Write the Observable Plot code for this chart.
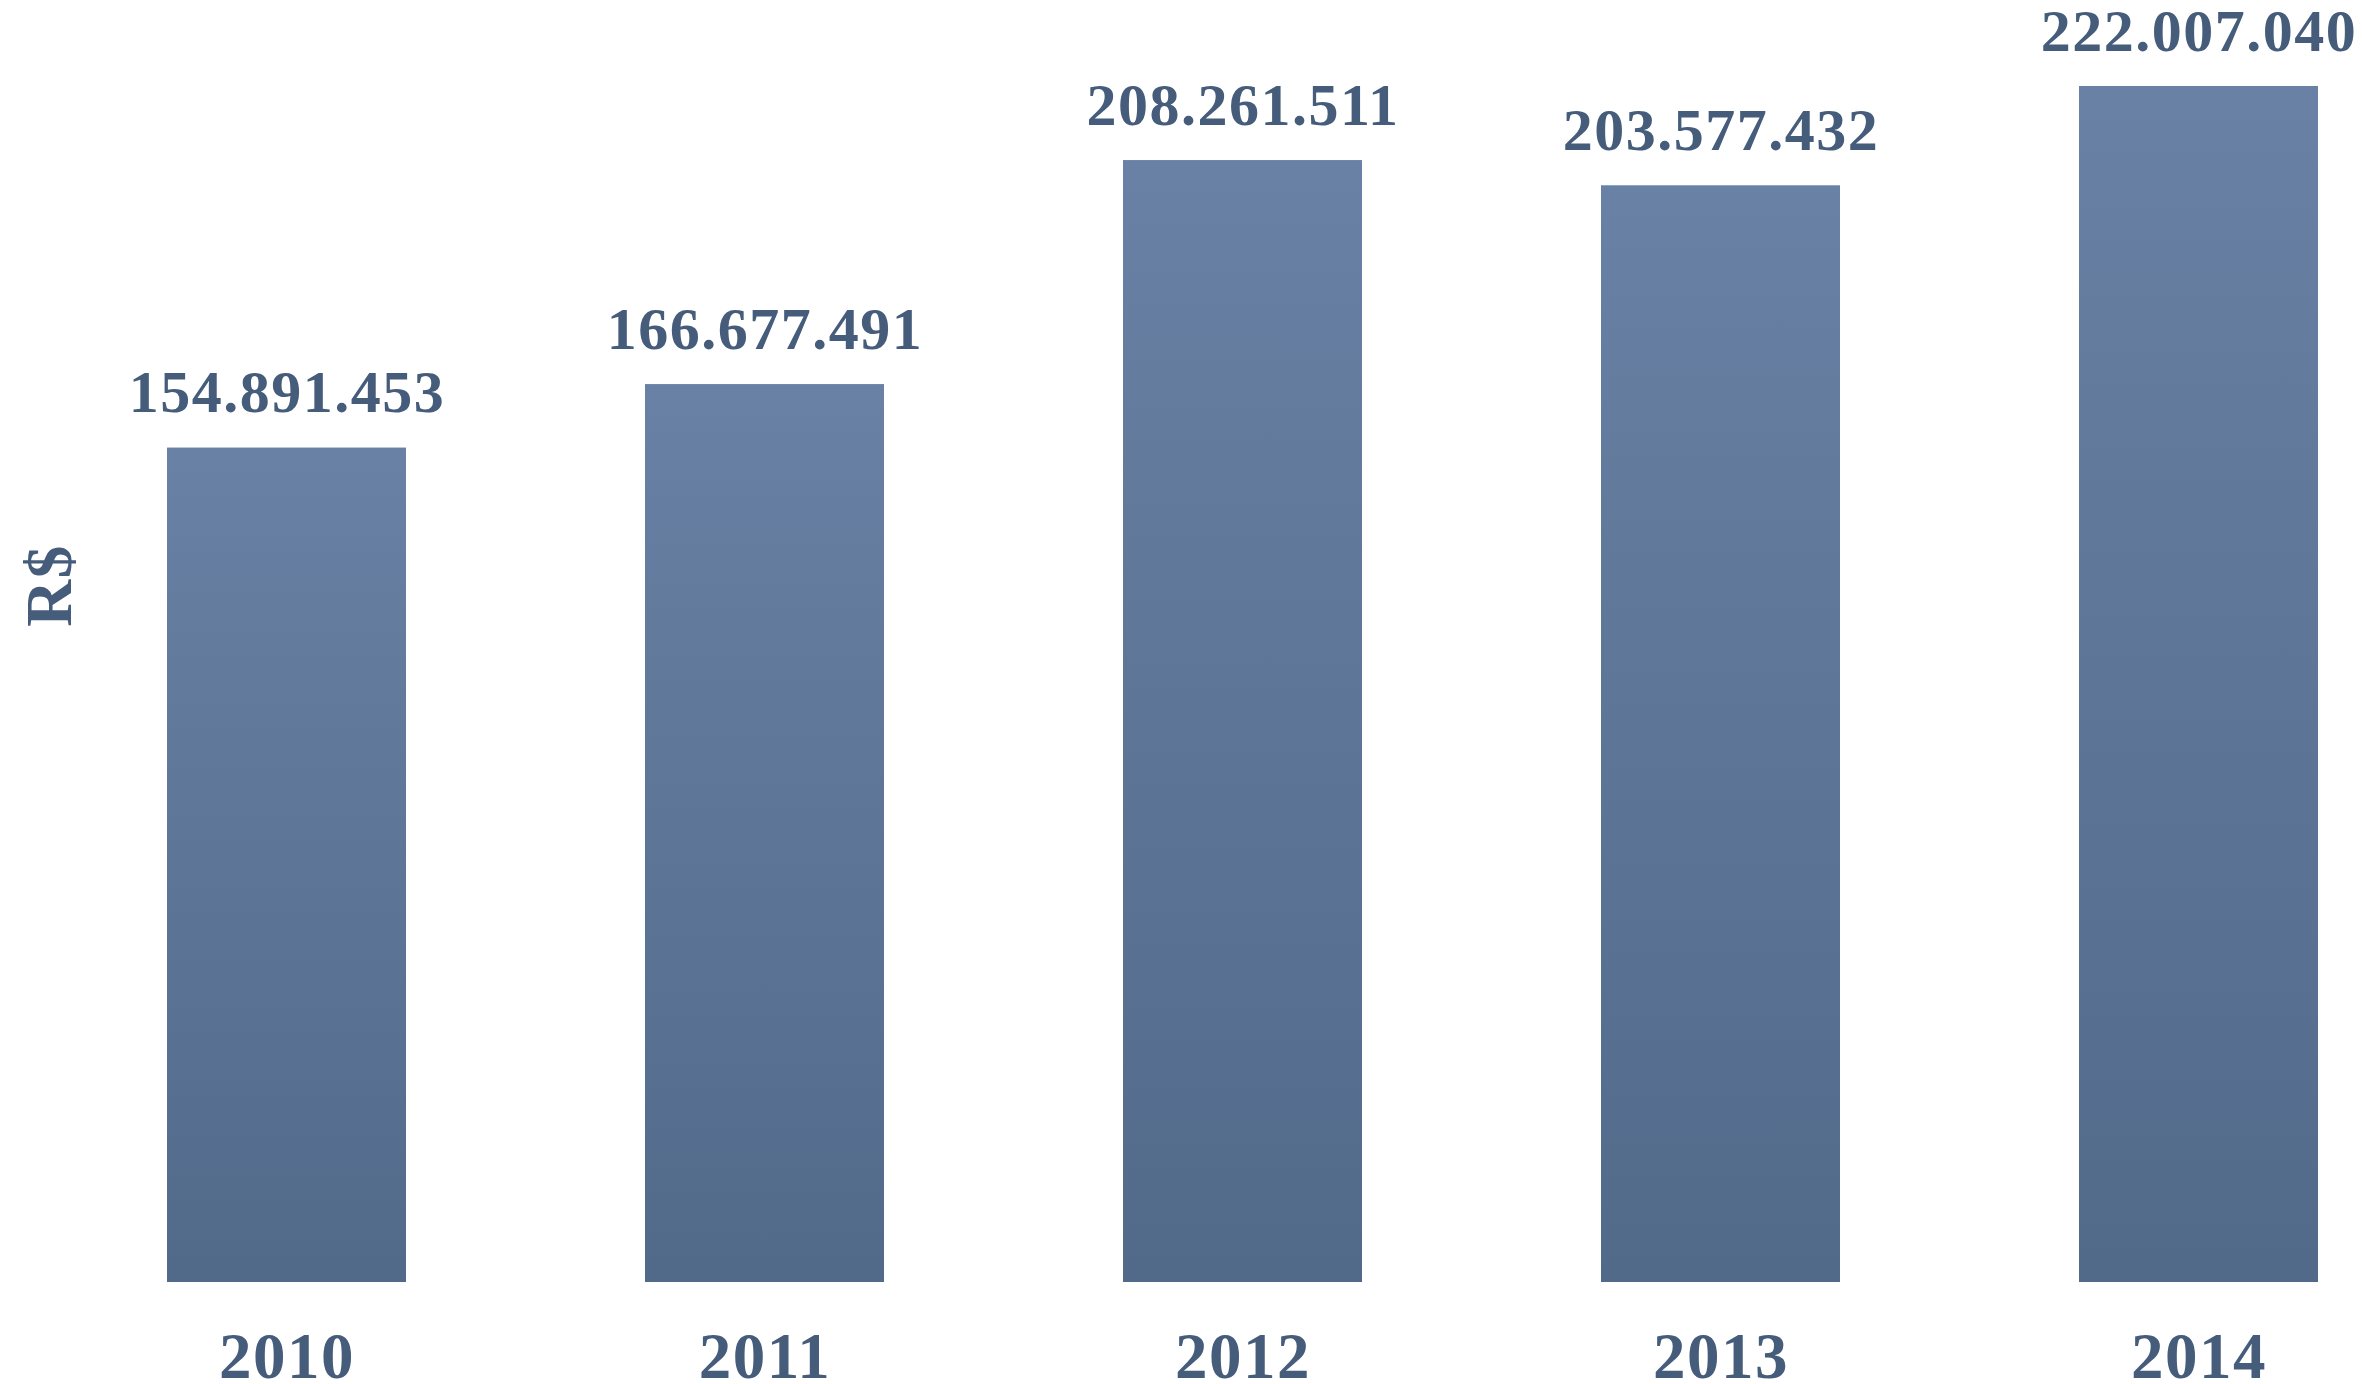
<!DOCTYPE html>
<html>
<head>
<meta charset="utf-8">
<script src="https://cdn.jsdelivr.net/npm/d3@7"></script>
<script src="https://cdn.jsdelivr.net/npm/@observablehq/plot@0.6"></script>
<style>
  html, body { margin: 0; padding: 0; background: #ffffff; }
  svg { display: block; }
</style>
</head>
<body>
<div id="chart"></div>
<script>
const years = ["2010", "2011", "2012", "2013", "2014"];
const values = [154891453, 166677491, 208261511, 203577432, 222007040];
const labels = ["154.891.453", "166.677.491", "208.261.511", "203.577.432", "222.007.040"];

const data = years.map((y, i) => ({year: y, value: values[i], label: labels[i]}));

const textColor = "#465c7b";
const fontFam = "'Liberation Serif', 'DejaVu Serif', serif";

const gradientDefs = () => {
  const defs = d3.create("svg:defs");
  const g = defs.append("linearGradient")
    .attr("id", "barGrad")
    .attr("x1", 0).attr("y1", 0).attr("x2", 0).attr("y2", 1);
  g.append("stop").attr("offset", "0%").attr("stop-color", "#6881a4");
  g.append("stop").attr("offset", "100%").attr("stop-color", "#526a8a");
  return defs.node();
};

const chart = Plot.plot({
  width: 2362,
  height: 1384,
  marginLeft: 167,
  marginRight: 44,
  marginTop: 86,
  marginBottom: 102,
  style: {fontFamily: fontFam, color: textColor, background: "#ffffff", letterSpacing: "1.5px"},
  x: {domain: years, paddingInner: 0.5, paddingOuter: 0},
  y: {domain: [0, 222007040], axis: null},
  marks: [
    gradientDefs,
    Plot.barY(data, {x: "year", y: "value", fill: "url(#barGrad)"}),
    Plot.text(data, {
      x: "year", y: "value", text: "label",
      dy: -55, lineAnchor: "middle",
      fontSize: 60, fontWeight: "bold", fill: textColor
    }),
    Plot.axisX({
      tickSize: 0, tickPadding: 49, fontSize: 65, fontWeight: "bold",
      fill: textColor, label: null
    }),
    Plot.text(["R$"], {
      frameAnchor: "top-left", dx: -117, dy: 499, rotate: -90,
      lineAnchor: "middle", textAnchor: "middle",
      fontSize: 65, fontWeight: "bold", fill: textColor
    })
  ]
});

document.getElementById("chart").appendChild(chart);
</script>
</body>
</html>
